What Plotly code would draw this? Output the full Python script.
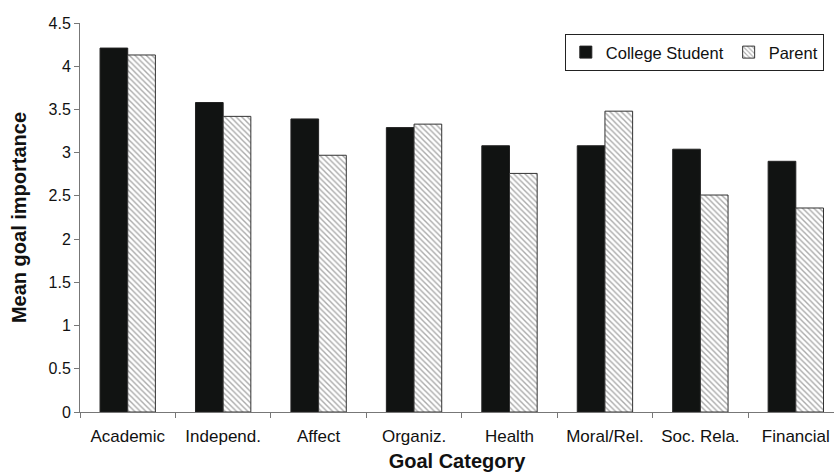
import plotly.graph_objects as go

# Goal categories and mean importance ratings
categories = ["Academic", "Independ.", "Affect", "Organiz.", "Health",
              "Moral/Rel.", "Soc. Rela.", "Financial"]
college_student = [4.21, 3.58, 3.39, 3.29, 3.08, 3.08, 3.04, 2.90]
parent = [4.13, 3.42, 2.97, 3.33, 2.76, 3.48, 2.51, 2.36]
y_ticks = [0, 0.5, 1, 1.5, 2, 2.5, 3, 3.5, 4, 4.5]

FONT = "Liberation Sans, Arial, sans-serif"

fig = go.Figure()
fig.add_trace(go.Bar(
    name="College Student", x=categories, y=college_student,
    marker=dict(color="#111312", line=dict(color="#222222", width=1)),
))
fig.add_trace(go.Bar(
    name="Parent", x=categories, y=parent,
    marker=dict(
        color="white",
        line=dict(color="#333333", width=1),
        pattern=dict(shape="\\", fgcolor="#555555", bgcolor="white",
                     size=4, solidity=0.35),
    ),
))

fig.update_layout(
    width=834, height=472,
    margin=dict(l=80, r=0, t=23, b=60, autoexpand=False),
    paper_bgcolor="white", plot_bgcolor="white",
    barmode="group", bargap=0.42, bargroupgap=0,
    font=dict(family=FONT, size=16, color="#111111"),
    legend=dict(
        orientation="h", x=0.643, y=0.972, xanchor="left", yanchor="top",
        bordercolor="#222222", borderwidth=1, bgcolor="white",
        font=dict(size=16.5), itemwidth=30,
    ),
    xaxis=dict(
        range=[-0.5, 7.4], showline=True, linecolor="#777777", linewidth=1,
        ticks="outside", tickson="boundaries", ticklen=5, tickcolor="#777777",
        showgrid=False, zeroline=False, tickangle=0, tickfont=dict(size=17),
        ticklabelstandoff=9,
        title=dict(text="<b>Goal Category</b>", font=dict(size=20), standoff=9),
    ),
    yaxis=dict(
        range=[0, 4.5], tickvals=y_ticks, ticktext=[f"{v:g}" for v in y_ticks],
        showline=True, linecolor="#777777", linewidth=1,
        ticks="outside", ticklen=5, tickcolor="#777777",
        showgrid=False, zeroline=False, tickfont=dict(size=16),
        title=dict(text="<b>Mean goal importance</b>", font=dict(size=20), standoff=16),
    ),
)

fig.write_html("out.html")
